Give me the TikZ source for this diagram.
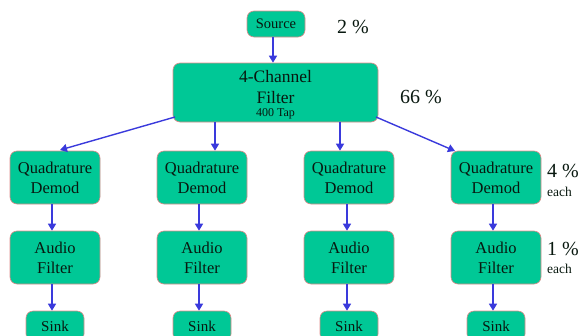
\documentclass[tikz,border=0pt]{standalone}
\usepackage{fontspec}
\setmainfont{Liberation Serif}
\usetikzlibrary{arrows.meta}
\definecolor{boxfill}{HTML}{00C896}
\definecolor{boxedge}{HTML}{E08A8A}
\definecolor{flow}{HTML}{3A3ADC}
\definecolor{ink}{HTML}{08180F}
\begin{document}
\begin{tikzpicture}[x=1pt,y=-1pt,
  block/.style={draw=boxedge, line width=0.6pt, fill=boxfill, rounded corners=7pt,
    text=ink, align=center, inner sep=0pt, font=\fontsize{16.5}{20}\selectfont},
  flowarrow/.style={draw=flow, line width=1.4pt, -{Triangle[length=7pt,width=8pt]}},
  pct/.style={text=ink, font=\fontsize{20}{22}\selectfont, anchor=west, inner sep=0pt},
  eachlbl/.style={text=ink, font=\fontsize{13.5}{14}\selectfont, anchor=west, inner sep=0pt}]
\useasboundingbox (0,0) rectangle (581,335);
\clip (0,0) rectangle (581,335);

% source and main filter
\node[block, minimum width=58pt, minimum height=26pt, font=\fontsize{14.5}{16}\selectfont] (src) at (276,24) {Source};
\node[block, minimum width=205pt, minimum height=59pt] (filt) at (275.5,92.5) {};
\node[text=ink, align=center, inner sep=0pt, font=\fontsize{17.5}{21}\selectfont] (filttxt) at (275.5,87)
  {4-Channel\\Filter};
\node[text=ink, inner sep=0pt, font=\fontsize{12}{13}\selectfont] (taptxt) at (275.5,114) {400 Tap};

% four channel columns
\foreach \i/\cx in {1/55,2/202,3/349,4/496}{
  \node[block, minimum width=90pt, minimum height=53pt] (dem\i) at (\cx,177.5) {Quadrature\\Demod};
  \node[block, minimum width=90pt, minimum height=53pt] (aud\i) at (\cx,257.5) {Audio\\Filter};
  \node[block, minimum width=58pt, minimum height=30pt, font=\fontsize{15}{17}\selectfont, text depth=0pt] (snk\i) at (\cx,326) {\raisebox{-1pt}{Sink}};
}

% fan-out from the filter
\coordinate (fo1) at (175,117);
\coordinate (fo2) at (215,122);
\coordinate (fo3) at (340,122);
\coordinate (fo4) at (376,117);
\draw[flowarrow] (src.south -| 273,0) -- (filt.north -| 273,0);
\draw[flowarrow] (fo1) -- (60,150);
\draw[flowarrow] (fo2) -- (dem2.north -| fo2);
\draw[flowarrow] (fo3) -- (dem3.north -| fo3);
\draw[flowarrow] (fo4) -- (455,151);

% per-channel chains
\foreach \i/\ax in {1/52,2/199,3/347,4/493}{
  \draw[flowarrow] (dem\i.south -| \ax,0) -- (aud\i.north -| \ax,0);
  \draw[flowarrow] (aud\i.south -| \ax,0) -- (snk\i.north -| \ax,0);
}

% load figures
\node[pct] (p1) at (337,27) {2 \%};
\node[pct] (p2) at (400,97) {66 \%};
\node[pct] (p3) at (547,171) {4 \%};
\node[eachlbl] (e3) at (547,192) {each};
\node[pct] (p4) at (547,249) {1 \%};
\node[eachlbl] (e4) at (547,269) {each};
\end{tikzpicture}
\end{document}
